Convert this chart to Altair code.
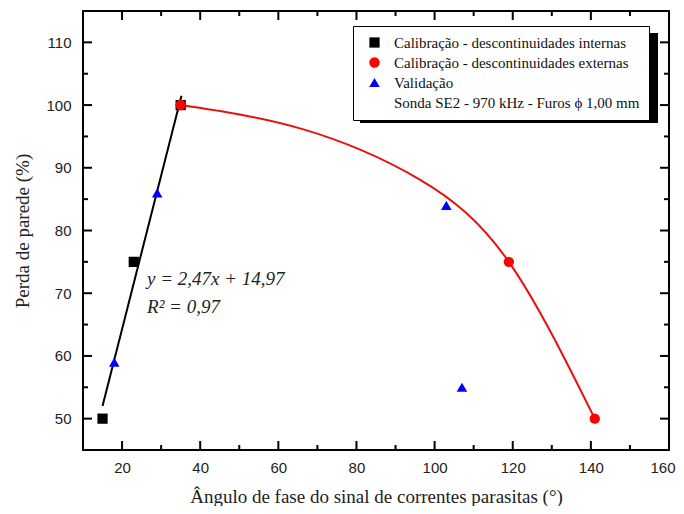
import altair as alt
import pandas as pd

# ---- data ----
int_x = [15, 23, 35]
int_y = [50, 75, 100]
ext_x = [35, 119, 141]
ext_y = [100, 75, 50]
val_x = [18, 29, 103, 107]
val_y = [59, 86, 84, 55]

fit_lin_x = [15, 35.2]
fit_lin_y = [52, 101.5]

curve_x = [35, 66, 96, 119, 141]
curve_y = [100, 96.2, 88.2, 75, 50]

series_names = [
    "Calibração - descontinuidades internas",
    "Calibração - descontinuidades externas",
    "Validação",
    "Sonda SE2 - 970 kHz - Furos \u03d5 1,00 mm",
]

x_major = [20, 40, 60, 80, 100, 120, 140]
x_minor = [30, 50, 70, 90, 110, 130, 150]
y_major = [50, 60, 70, 80, 90, 100, 110]
y_minor = [55, 65, 75, 85, 95, 105]

eq_text = ["y = 2,47x + 14,97", "R\u00b2 = 0,97"]
eq_x = [26.4, 26.4]
eq_y = [71.3, 66.9]

x_title = "Ângulo de fase do sinal de correntes parasitas (°)"
y_title = "Perda de parede (%)"

W, H = 586, 439

xs = alt.Scale(domain=[10, 160], nice=False, zero=False)
ys = alt.Scale(domain=[45, 115], nice=False, zero=False)

xaxis = alt.Axis(values=[20, 40, 60, 80, 100, 120, 140, 160], ticks=False, tickSize=0,
                 domain=False, grid=False, labelPadding=10, titlePadding=12,
                 labelFlush=True, labelFlushOffset=6)
yaxis = alt.Axis(values=y_major, ticks=False, tickSize=0, domain=False, grid=False,
                 labelPadding=12, titlePadding=13)


def X(field="x"):
    return alt.X(f"{field}:Q", scale=xs, axis=xaxis, title=x_title)


def Y(field="y"):
    return alt.Y(f"{field}:Q", scale=ys, axis=yaxis, title=y_title)


pts = pd.DataFrame({
    "x": int_x + ext_x + val_x,
    "y": int_y + ext_y + val_y,
    "serie": [series_names[0]] * len(int_x) + [series_names[1]] * len(ext_x)
    + [series_names[2]] * len(val_x),
})

lin_df = pd.DataFrame({"x": fit_lin_x, "y": fit_lin_y})
curve_df = pd.DataFrame({"x": curve_x, "y": curve_y})
eq_df = pd.DataFrame({"x": eq_x, "y": eq_y, "t": eq_text})

leg = alt.Legend(title=None, orient="none", legendX=270, legendY=15, padding=9,
                 fillColor="white", strokeColor="black", labelFont="Liberation Serif",
                 labelFontSize=15, labelColor="#111111", labelLimit=400, rowPadding=4,
                 symbolOffset=5, labelOffset=12, symbolStrokeWidth=0)

shadow = alt.Chart(pd.DataFrame({"a": [0]})).mark_rect(color="black").encode(
    x=alt.value(277), x2=alt.value(575), y=alt.value(22), y2=alt.value(112)
)

line_black = alt.Chart(lin_df).mark_line(color="black", strokeWidth=2).encode(x=X(), y=Y())
line_red = alt.Chart(curve_df).mark_line(color="#e8100f", strokeWidth=2,
                                         interpolate="natural").encode(x=X(), y=Y())

points = alt.Chart(pts).mark_point(filled=True, opacity=1).encode(
    x=X(), y=Y(),
    color=alt.Color("serie:N", scale=alt.Scale(domain=series_names,
                                               range=["black", "#ff0000", "#0000ff", "white"]),
                    legend=leg),
    shape=alt.Shape("serie:N", scale=alt.Scale(domain=series_names,
                                               range=["square", "circle", "triangle-up", "circle"]),
                    legend=leg),
    size=alt.Size("serie:N", scale=alt.Scale(domain=series_names,
                                             range=[105, 115, 215, 50]),
                  legend=leg),
)

eq = alt.Chart(eq_df).mark_text(font="Liberation Serif", fontSize=19, fontStyle="italic",
                                align="left", baseline="alphabetic", color="#222222").encode(
    x=X(), y=Y(), text="t:N"
)


def vticks(vals, length, top):
    df = pd.DataFrame({"x": vals})
    if top:
        return alt.Chart(df).mark_rule(color="black", strokeWidth=2).encode(
            x=X(), y=alt.value(0), y2=alt.value(length))
    return alt.Chart(df).mark_rule(color="black", strokeWidth=2).encode(
        x=X(), y=alt.value(H), y2=alt.value(H - length))


def hticks(vals, length, right):
    df = pd.DataFrame({"y": vals})
    if right:
        return alt.Chart(df).mark_rule(color="black", strokeWidth=2).encode(
            y=Y(), x=alt.value(W), x2=alt.value(W - length))
    return alt.Chart(df).mark_rule(color="black", strokeWidth=2).encode(
        y=Y(), x=alt.value(0), x2=alt.value(length))


ticks = [
    vticks(x_major, 9, False), vticks(x_minor, 5, False),
    vticks(x_major, 9, True), vticks(x_minor, 5, True),
    hticks(y_major, 9, False), hticks(y_minor, 5, False),
    hticks(y_major, 9, True), hticks(y_minor, 5, True),
]

chart = alt.layer(shadow, *ticks, line_black, line_red, points, eq).properties(
    width=W, height=H,
    background="white",
    autosize=alt.AutoSizeParams(type="none"),
    padding={"left": 75, "top": 3, "right": 7, "bottom": 56},
).configure_view(stroke="black", strokeWidth=2).configure_axis(
    labelFont="Liberation Sans", labelFontSize=15, labelColor="#222222",
    titleFont="Liberation Serif", titleFontSize=19, titleFontWeight="normal",
    titleColor="#222222",
)

chart.save("out.html", embed_options={"renderer": "svg", "actions": False})
